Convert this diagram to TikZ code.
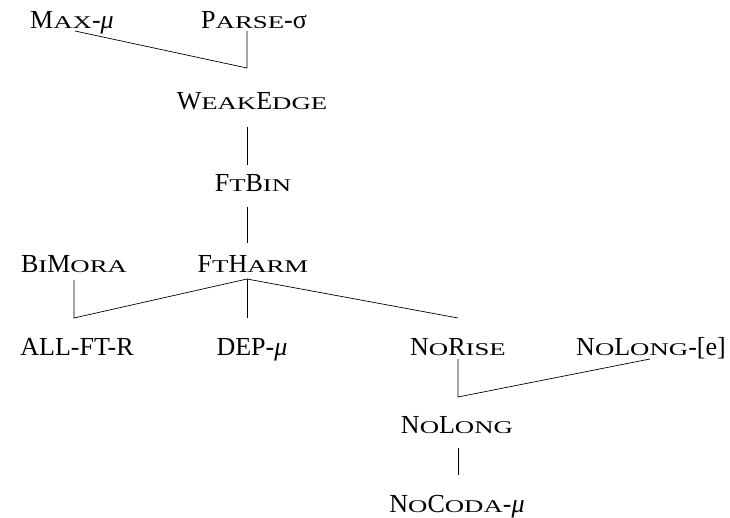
\documentclass[tikz,border=0pt]{standalone}
\usepackage{fontspec}
\setmainfont{Liberation Serif}
\usepackage{graphicx}
\usetikzlibrary{calc}
\newcommand\smc[1]{\scalebox{1.03}[0.69]{#1}}
\tikzset{
  lbl/.style={anchor=base, inner sep=0pt, font=\fontsize{26}{30}\selectfont},
  edge/.style={draw, line width=0.7pt}
}
\begin{document}
\begin{tikzpicture}[x=1pt,y=-1pt]
\useasboundingbox (0,0) rectangle (730,518);
% constraints
\node[lbl] (max)     at (72,29)  {M\smc{AX}-\textit{μ}};
\node[lbl] (parse)   at (254,29) {P\smc{ARSE}-σ};
\node[lbl] (weak)    at (252,110) {W\smc{EAK}E\smc{DGE}};
\node[lbl] (ftbin)   at (253,192) {F\smc{T}B\smc{IN}};
\node[lbl] (bimora)  at (74,273)  {B\smc{I}M\smc{ORA}};
\node[lbl] (ftharm)  at (253,273) {F\smc{T}H\smc{ARM}};
\node[lbl] (allft)   at (77,355)  {ALL-FT-R};
\node[lbl] (dep)     at (252,355) {DEP-\textit{μ}};
\node[lbl] (norise)  at (458,355) {N\smc{O}R\smc{ISE}};
\node[lbl] (nolonge) at (651,355) {N\smc{O}L\smc{ONG}-[e]};
\node[lbl] (nolong)  at (457,433) {N\smc{O}L\smc{ONG}};
\node[lbl] (nocoda)  at (457,512) {N\smc{O}C\smc{ODA}-\textit{μ}};
% joint points
\coordinate (maxb)    at ($(max.base)+(3,2)$);
\coordinate (parseb)  at ($(parse.base)+(-7,2)$);
\coordinate (weakt)   at ($(weak.base)+(-5,-42)$);
\coordinate (weakb)   at ($(weak.base)+(-5,17)$);
\coordinate (ftbint)  at ($(ftbin.base)+(-6,-27)$);
\coordinate (ftbinb)  at ($(ftbin.base)+(-6,15)$);
\coordinate (ftharmt) at ($(ftharm.base)+(-6,-30)$);
\coordinate (ftharmb) at ($(ftharm.base)+(-6,6)$);
\coordinate (bimorab) at ($(bimora.base)+(0,7)$);
\coordinate (allftt)  at ($(allft.base)+(-3,-37)$);
\coordinate (dept)    at ($(dep.base)+(-5,-37)$);
\coordinate (noriset) at ($(norise.base)+(0,-37)$);
\coordinate (noriseb) at ($(norise.base)+(0,4)$);
\coordinate (nolongeb) at ($(nolonge.base)+(-1,4)$);
\coordinate (nolongt) at ($(nolong.base)+(1,-36)$);
\coordinate (nolongb) at ($(nolong.base)+(1,15)$);
\coordinate (nocodat) at ($(nocoda.base)+(1,-37)$);
% connectors
\path[edge] (maxb) -- (weakt) -- (parseb);
\path[edge] (weakb) -- (ftbint);
\path[edge] (ftbinb) -- (ftharmt);
\path[edge] (bimorab) -- (allftt) -- (ftharmb);
\path[edge] (ftharmb) -- (dept);
\path[edge] (ftharmb) -- (noriset);
\path[edge] (noriseb) -- (nolongt) -- (nolongeb);
\path[edge] (nolongb) -- (nocodat);
\end{tikzpicture}
\end{document}
